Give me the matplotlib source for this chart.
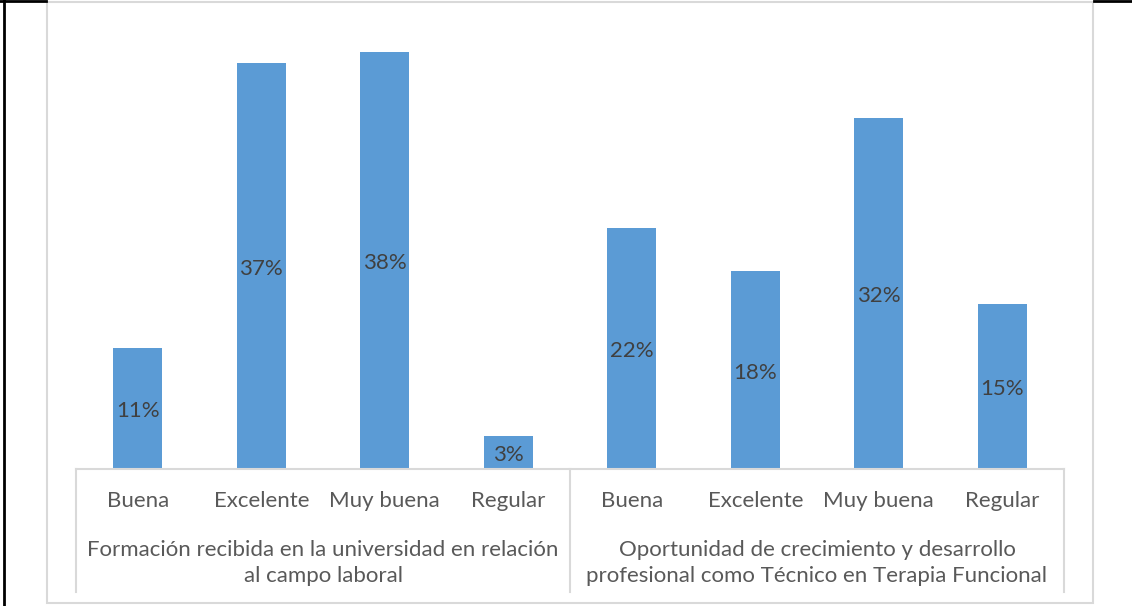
import matplotlib.pyplot as plt
from matplotlib.lines import Line2D
from matplotlib.patches import Rectangle

plt.rcParams['font.family'] = ['Lato', 'DejaVu Sans']

groups = ['Formación recibida en la universidad en relación\nal campo laboral',
          'Oportunidad de crecimiento y desarrollo\nprofesional como Técnico en Terapia Funcional']
categories = ['Buena', 'Excelente', 'Muy buena', 'Regular']
formacion = [11, 37, 38, 3]
oportunidad = [22, 18, 32, 15]

W, H = 1132, 606
fig = plt.figure(figsize=(W / 100, H / 100), dpi=100)

def fx(px):
    return px / W

def fy(py):
    return 1 - py / H

# outer frame lines (black) and chart border (light gray)
fig.add_artist(Line2D([fx(4), fx(4)], [0, 1], color='black', lw=2))
fig.add_artist(Line2D([0, fx(46)], [fy(0.5), fy(0.5)], color='black', lw=2))
fig.add_artist(Line2D([fx(1094), 1], [fy(0.5), fy(0.5)], color='black', lw=2))
fig.add_artist(Rectangle((fx(47), fy(603)), fx(1093) - fx(47), fy(1.5) - fy(603),
                         transform=fig.transFigure, fill=False, ec='#d9d9d9', lw=1.5))

left, right, base, top = 76, 1064, 469, 30
ax = fig.add_axes([fx(left), fy(base), fx(right) - fx(left), fy(top) - fy(base)])
ax.set_xlim(-0.5, 7.5)
ax.set_ylim(0, 40)
ax.axis('off')

values = formacion + oportunidad
labels = categories + categories
x = list(range(len(values)))
blue = '#5b9bd5'
ax.bar(x, values, width=0.4, color=blue, zorder=2)
for xi, v in zip(x, values):
    ax.annotate(f'{v}%', (xi, v / 2), xytext=(0, -2), textcoords='offset points',
                ha='center', va='center', fontsize=16, color='#404040', zorder=3)

# multi-level category axis
axis_col = '#d9d9d9'
px_per_unit = (base - top) / 40.0
def yb(py):
    # pixel row below the baseline to data units
    return -(py - base) / px_per_unit

ax.plot([-0.5, 7.5], [0, 0], color=axis_col, lw=1.5, clip_on=False)
for xs in (-0.5, 3.5, 7.5):
    ax.plot([xs, xs], [0, yb(592)], color=axis_col, lw=1.5, clip_on=False)
for xi, lab in zip(x, labels):
    ax.text(xi, yb(501), lab, ha='center', va='center', fontsize=16, color='#595959')
for gi, g in enumerate(groups):
    ax.text(1.5 + 4 * gi, yb(563), g, ha='center', va='center', fontsize=16,
            color='#595959', linespacing=1.4)

fig.savefig('out.png', dpi=100)
